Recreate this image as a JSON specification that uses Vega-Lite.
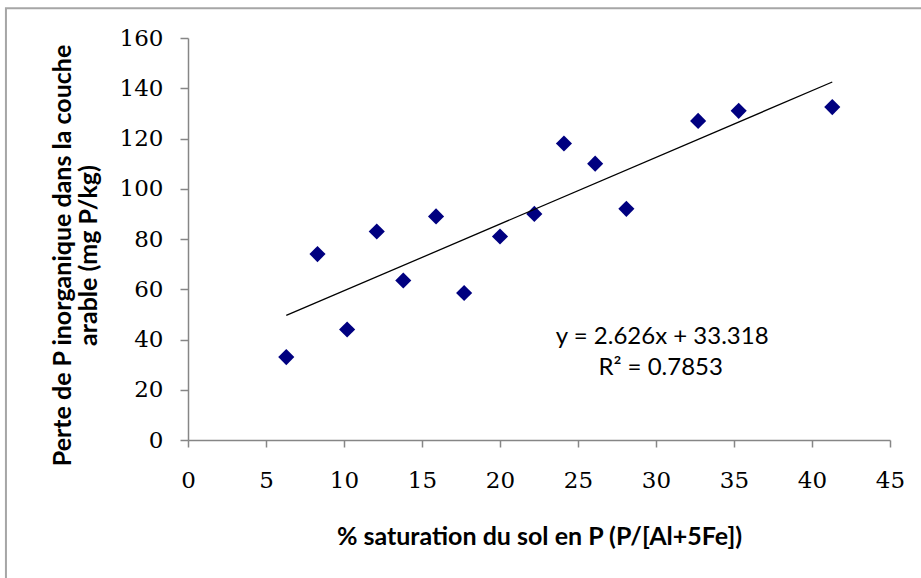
{
  "$schema": "https://vega.github.io/schema/vega-lite/v6.json",
  "width": 702,
  "height": 402,
  "autosize": {"type": "none"},
  "padding": {"left": 188, "top": 38, "right": 31, "bottom": 138},
  "background": "white",
  "config": {"view": {"stroke": null}},
  "datasets": {
    "points": [
      {"sat": 6.3, "perte": 33},
      {"sat": 8.3, "perte": 74},
      {"sat": 10.2, "perte": 44},
      {"sat": 12.1, "perte": 83},
      {"sat": 13.8, "perte": 63.5},
      {"sat": 15.9, "perte": 89},
      {"sat": 17.7, "perte": 58.5},
      {"sat": 20.0, "perte": 81},
      {"sat": 22.2, "perte": 90},
      {"sat": 24.1, "perte": 118},
      {"sat": 26.1, "perte": 110},
      {"sat": 28.1, "perte": 92},
      {"sat": 32.7, "perte": 127},
      {"sat": 35.3, "perte": 131},
      {"sat": 41.3, "perte": 132.5}
    ],
    "notes": [
      {"sat": 30.4, "perte": 41.1, "label": "y = 2.626x + 33.318"},
      {"sat": 30.3, "perte": 28.5, "label": "R² = 0.7853"}
    ]
  },
  "layer": [
    {
      "data": {"values": [{}]},
      "mark": {"type": "rect", "fill": "transparent", "stroke": "#a6a6a6", "strokeWidth": 2, "clip": false},
      "encoding": {
        "x": {"datum": -11.67, "type": "quantitative"},
        "x2": {"datum": 100},
        "y": {"datum": 171.8, "type": "quantitative"},
        "y2": {"datum": -100}
      }
    },
    {
      "data": {"name": "points"},
      "mark": {"type": "point", "shape": "diamond", "filled": true, "color": "#000080", "size": 260, "opacity": 1},
      "encoding": {
        "x": {
          "field": "sat", "type": "quantitative",
          "scale": {"domain": [0, 45], "nice": false, "zero": true},
          "axis": {
            "values": [0, 5, 10, 15, 20, 25, 30, 35, 40, 45],
            "grid": false,
            "domainColor": "#868686", "domainWidth": 1.5,
            "tickColor": "#868686", "tickSize": 7, "tickWidth": 1.5,
            "labelFont": "DejaVu Serif", "labelFontSize": 23, "labelColor": "#000000",
            "labelPadding": 22, "labelFlush": false, "labelOverlap": false,
            "title": "% saturation du sol en P (P/[Al+5Fe])",
            "titleFont": "Lato", "titleFontSize": 25, "titleFontWeight": "bold", "titleColor": "#000000",
            "titleY": 104, "titleBaseline": "alphabetic"
          }
        },
        "y": {
          "field": "perte", "type": "quantitative",
          "scale": {"domain": [0, 160], "nice": false},
          "axis": {
            "values": [0, 20, 40, 60, 80, 100, 120, 140, 160],
            "grid": false,
            "domainColor": "#868686", "domainWidth": 1.5,
            "tickColor": "#868686", "tickSize": 8, "tickWidth": 1.5,
            "labelFont": "DejaVu Serif", "labelFontSize": 23, "labelColor": "#000000",
            "labelPadding": 17, "labelFlush": false, "labelOverlap": false,
            "title": ["Perte de P inorganique dans la couche", "arable (mg P/kg)"],
            "titleFont": "Lato", "titleFontSize": 25, "titleFontWeight": "bold", "titleColor": "#000000",
            "titleLineHeight": 26, "titleAngle": -90,
            "titleX": -126, "titleY": 217, "titleBaseline": "middle", "titleAlign": "center"
          }
        }
      }
    },
    {
      "data": {"name": "points"},
      "transform": [{"regression": "perte", "on": "sat"}],
      "mark": {"type": "line", "color": "#000000", "strokeWidth": 1.3},
      "encoding": {
        "x": {"field": "sat", "type": "quantitative"},
        "y": {"field": "perte", "type": "quantitative"}
      }
    },
    {
      "data": {"name": "notes"},
      "mark": {"type": "text", "font": "Lato", "fontSize": 24, "color": "#000000", "align": "center", "baseline": "middle"},
      "encoding": {
        "x": {"field": "sat", "type": "quantitative"},
        "y": {"field": "perte", "type": "quantitative"},
        "text": {"field": "label"}
      }
    }
  ]
}
